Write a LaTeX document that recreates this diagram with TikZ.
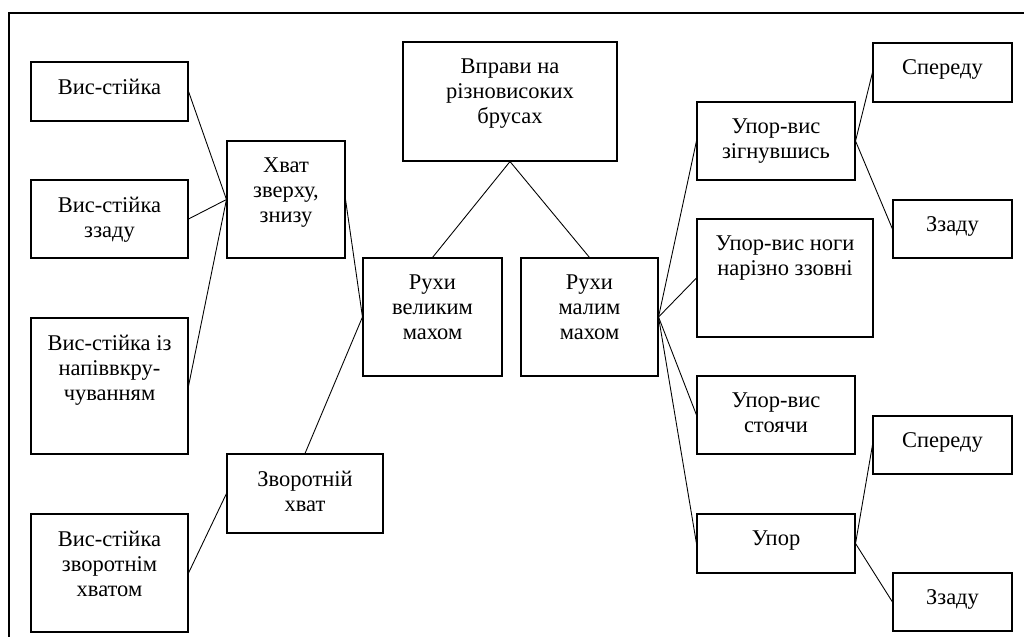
\documentclass[tikz,border=0pt]{standalone}
\usepackage{fontspec}
\setmainfont{Liberation Serif}
\usepackage{tikz}

% box from corners (x1,y1)-(x2,y2), pixel units of the picture
\newcommand{\ramka}[6]{%
  \node[box, minimum width={(#4-#2)*0.02cm}, minimum height={(#5-#3)*0.02cm},
        label={[txt]north:{#6}}] (#1) at ({(#2+#4)/2},{(#3+#5)/2}) {};}

\tikzset{
  box/.style={draw, line width=0.6pt, inner sep=0pt, rectangle},
  txt/.style={anchor=north, yshift=-0.34cm, inner sep=0pt, align=center,
              font=\fontsize{12.8}{14.2}\selectfont},
  link/.style={line width=0.5pt}
}

\begin{document}
\begin{tikzpicture}[x=0.02cm, y=-0.02cm]
    \useasboundingbox (0,0) rectangle (1024,636);
    % frame
    \draw[line width=1.1pt] (9,640) -- (9,13) -- (1030,13);
    % top and middle
    \ramka{vprava}{403}{42}{617}{161}{Вправи на\\різновисоких\\брусах}
    \ramka{vmah}{363}{258}{502}{376}{Рухи\\великим\\махом}
    \ramka{mmah}{521}{258}{658}{376}{Рухи\\малим\\махом}
    % left side
    \ramka{hvat}{227}{141}{345}{258}{Хват\\зверху,\\знизу}
    \ramka{zvhvat}{227}{454}{383}{533}{Зворотній\\хват}
    \ramka{vs1}{31}{62}{188}{121}{Вис-стійка}
    \ramka{vs2}{31}{180}{188}{258}{Вис-стійка\\ззаду}
    \ramka{vs3}{31}{318}{188}{454}{Вис-стійка із\\напіввкру-\\чуванням}
    \ramka{vs4}{31}{514}{188}{632}{Вис-стійка\\зворотнім\\хватом}
    % right side
    \ramka{uvz}{697}{102}{855}{180}{Упор-вис\\зігнувшись}
    \ramka{uvn}{697}{219}{873}{337}{Упор-вис ноги\\нарізно ззовні}
    \ramka{uvs}{697}{376}{855}{454}{Упор-вис\\стоячи}
    \ramka{upor}{697}{514}{855}{573}{Упор}
    \ramka{sp1}{873}{43}{1012}{102}{Спереду}
    \ramka{zz1}{893}{200}{1012}{258}{Ззаду}
    \ramka{sp2}{873}{416}{1012}{474}{Спереду}
    \ramka{zz2}{893}{573}{1012}{631}{Ззаду}
    % connectors
    \draw[link] (vprava.south) -- (vmah.north);
    \draw[link] (vprava.south) -- (mmah.north);
    \foreach \a in {vs1,vs2,vs3}
    \draw[link] (\a.east) -- (hvat.west);
    \draw[link] (vs4.east) -- (zvhvat.west);
    \draw[link] (hvat.east) -- (vmah.west);
    \draw[link] (zvhvat.north) -- (vmah.west);
    \foreach \a in {uvz,uvn,uvs,upor}
    \draw[link] (mmah.east) -- (\a.west);
    \draw[link] (uvz.east) -- (sp1.west);
    \draw[link] (uvz.east) -- (zz1.west);
    \draw[link] (upor.east) -- (sp2.west);
    \draw[link] (upor.east) -- (zz2.west);
\end{tikzpicture}
\end{document}
